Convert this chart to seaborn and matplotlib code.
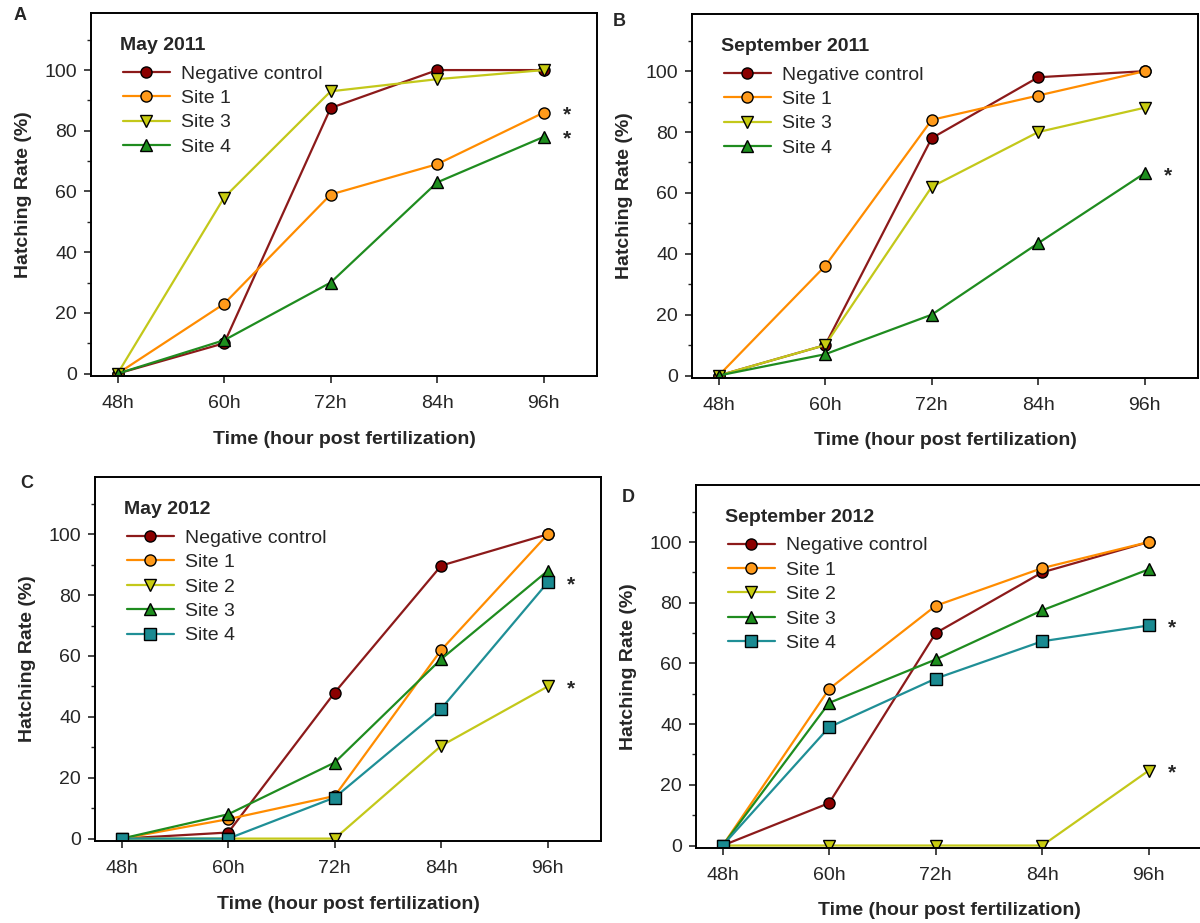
import numpy as np
import pandas as pd
import matplotlib
matplotlib.use("Agg")
import matplotlib.pyplot as plt
import seaborn as sns
from matplotlib.ticker import MultipleLocator


# ---------- Data ----------
hours = ["48h", "60h", "72h", "84h", "96h"]

# May 2011
may11_control = [0, 10, 87.5, 100, 100]
may11_site1 = [0, 23, 59, 69, 86]
may11_site3 = [0, 58, 93, 97, 100]
may11_site4 = [0, 11, 30, 63, 78]

# September 2011
sep11_control = [0, 10, 78, 98, 100]
sep11_site1 = [0, 36, 84, 92, 100]
sep11_site3 = [0, 10, 62, 80, 88]
sep11_site4 = [0, 7, 20, 43.5, 66.5]

# May 2012
may12_control = [0, 2, 48, 89.7, 100]
may12_site1 = [0, 6.4, 14, 62, 100]
may12_site2 = [0, 0, 0, 30.5, 50]
may12_site3 = [0, 8, 25, 59, 88]
may12_site4 = [0, 0, 13.5, 42.7, 84.2]

# September 2012
sep12_control = [0, 14, 70, 90, 100]
sep12_site1 = [0, 51.6, 79, 91.4, 100]
sep12_site2 = [0, 0, 0, 0, 24.7]
sep12_site3 = [0, 47, 61.3, 77.5, 91]
sep12_site4 = [0, 39, 55, 67.3, 72.5]

# ---------- Styles (line colour, marker fill, marker) ----------
red = ("#8c1a1a", "#8b0000", "o")
orange = ("#ff8c00", "#ff9a1a", "o")
yellow = ("#c3c81a", "#c8cc10", "v")
green = ("#1f8c1f", "#1e8f1e", "^")
teal = ("#1f8f96", "#1a8a91", "s")

panels = [
    dict(letter="A", title="May 2011", pos=[0.0758, 0.5926, 0.4217, 0.3933],
         series=[("Negative control", may11_control, red),
                 ("Site 1", may11_site1, orange),
                 ("Site 3", may11_site3, yellow),
                 ("Site 4", may11_site4, green)],
         stars=[may11_site1[-1], may11_site4[-1]],
         letter_xy=(20, 16)),
    dict(letter="B", title="September 2011", pos=[0.5767, 0.5905, 0.4217, 0.3944],
         series=[("Negative control", sep11_control, red),
                 ("Site 1", sep11_site1, orange),
                 ("Site 3", sep11_site3, yellow),
                 ("Site 4", sep11_site4, green)],
         stars=[sep11_site4[-1]],
         letter_xy=(619, 21)),
    dict(letter="C", title="May 2012", pos=[0.0792, 0.0888, 0.4217, 0.3944],
         series=[("Negative control", may12_control, red),
                 ("Site 1", may12_site1, orange),
                 ("Site 2", may12_site2, yellow),
                 ("Site 3", may12_site3, green),
                 ("Site 4", may12_site4, teal)],
         stars=[may12_site4[-1], may12_site2[-1]],
         letter_xy=(27, 483)),
    dict(letter="D", title="September 2012", pos=[0.58, 0.0813, 0.4217, 0.3933],
         series=[("Negative control", sep12_control, red),
                 ("Site 1", sep12_site1, orange),
                 ("Site 2", sep12_site2, yellow),
                 ("Site 3", sep12_site3, green),
                 ("Site 4", sep12_site4, teal)],
         stars=[sep12_site4[-1], sep12_site2[-1]],
         letter_xy=(628, 497)),
]

sns.set_style("ticks")
plt.rcParams["font.family"] = ["Liberation Sans", "DejaVu Sans"]

fig = plt.figure(figsize=(12, 9.23), dpi=100)

for p in panels:
    ax = fig.add_axes(p["pos"])
    for name, vals, (lc, mc, mk) in p["series"]:
        df = pd.DataFrame({"x": np.arange(len(hours)), "y": vals})
        sns.lineplot(data=df, x="x", y="y", ax=ax, color=lc, linewidth=1.6,
                     marker=mk, markersize=8, markerfacecolor=mc,
                     markeredgecolor="black", markeredgewidth=1.0,
                     label=name)
    for v in p["stars"]:
        ax.text(4.22, v - 0.8, "*", fontsize=15, fontweight="bold",
                ha="center", va="center")

    ax.set_xlim(-0.25, 4.5)
    ax.set_ylim(-0.8, 118.8)
    ax.set_xticks(range(len(hours)))
    ax.set_xticklabels(hours)
    ax.yaxis.set_major_locator(MultipleLocator(20))
    ax.yaxis.set_minor_locator(MultipleLocator(10))
    ax.tick_params(axis="x", direction="out", length=5, width=1.2, pad=9,
                   labelsize=14, top=False)
    ax.tick_params(axis="y", which="major", direction="out", length=5,
                   width=1.2, pad=5, labelsize=14, right=False)
    ax.tick_params(axis="y", which="minor", direction="out", length=3,
                   width=1.0, right=False)
    for s in ax.spines.values():
        s.set_visible(True)
        s.set_linewidth(1.4)
        s.set_color("black")

    ax.set_xlabel("Time (hour post fertilization)", fontsize=14,
                  fontweight="bold", labelpad=13)
    ax.set_ylabel("Hatching Rate (%)", fontsize=14, fontweight="bold",
                  labelpad=9)

    # legend title as a plain bold text, legend entries below it
    ax.text(0.058, 0.911, p["title"], transform=ax.transAxes, fontsize=14,
            fontweight="bold", ha="left", va="center")
    ax.legend(loc="upper left", bbox_to_anchor=(0.063, 0.857),
              frameon=False, fontsize=14, handlelength=2.4,
              labelspacing=0.35, handletextpad=0.6, borderpad=0,
              borderaxespad=0)

    fig.text(p["letter_xy"][0] / 1200, 1 - p["letter_xy"][1] / 923,
             p["letter"], fontsize=13, fontweight="bold",
             ha="center", va="center")

fig.savefig("out.png", dpi=100)
